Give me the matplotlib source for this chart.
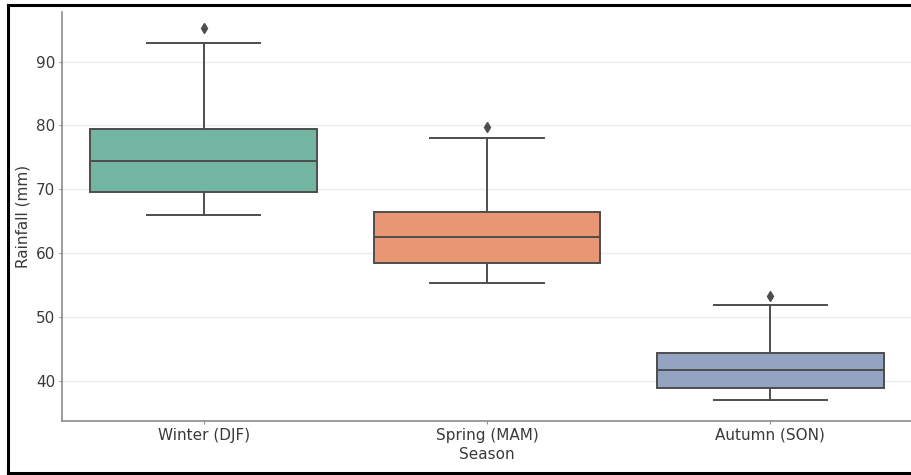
import matplotlib
matplotlib.use("Agg")
import matplotlib.pyplot as plt
import matplotlib.colors as mcolors
import colorsys
from matplotlib.lines import Line2D

# Seasonal rainfall summary (mm)
seasons = ["Winter (DJF)", "Spring (MAM)", "Autumn (SON)"]
whisker_low = [65.9, 55.3, 36.9]
q1 = [69.6, 58.4, 38.9]
median = [74.5, 62.5, 41.7]
q3 = [79.4, 66.5, 44.4]
whisker_high = [92.9, 78.0, 51.9]
outliers = [[95.2], [79.8], [53.2]]

base_colors = ["#66c2a5", "#fc8d62", "#8da0cb"]


def desaturate(color, prop=0.75):
    r, g, b = mcolors.to_rgb(color)
    h, l, s = colorsys.rgb_to_hls(r, g, b)
    return colorsys.hls_to_rgb(h, l, s * prop)


fig = plt.figure(figsize=(9.12, 4.75), dpi=100)
ax = fig.add_axes([0.068, 0.114, 0.932, 0.861])

stats = []
for i, name in enumerate(seasons):
    stats.append({
        "label": name,
        "whislo": whisker_low[i],
        "q1": q1[i],
        "med": median[i],
        "q3": q3[i],
        "whishi": whisker_high[i],
        "fliers": outliers[i],
    })

line_gray = "#4d4d4d"
bp = ax.bxp(
    stats,
    positions=range(len(seasons)),
    widths=0.8,
    patch_artist=True,
    boxprops=dict(edgecolor=line_gray, linewidth=1.4),
    medianprops=dict(color=line_gray, linewidth=1.4),
    whiskerprops=dict(color=line_gray, linewidth=1.4),
    capprops=dict(color=line_gray, linewidth=1.4),
    flierprops=dict(marker="d", markerfacecolor=line_gray,
                    markeredgecolor=line_gray, markersize=5),
    zorder=3,
)
for patch, c in zip(bp["boxes"], base_colors):
    patch.set_facecolor(desaturate(c))

# caps span half the box width
for cap in bp["caps"]:
    x = cap.get_xdata()
    mid = (x[0] + x[1]) / 2
    cap.set_xdata([mid - 0.2, mid + 0.2])

ax.set_xlim(-0.5, 2.5)
ax.set_ylim(33.7, 97.8)
ax.set_yticks([40, 50, 60, 70, 80, 90])
ax.yaxis.grid(True, color="#ebebeb", linewidth=1.0, zorder=0)
ax.set_axisbelow(True)

for side in ("top", "right"):
    ax.spines[side].set_visible(False)
for side in ("left", "bottom"):
    ax.spines[side].set_color("#8c8c8c")
    ax.spines[side].set_linewidth(1.2)

ax.tick_params(axis="both", colors="#8c8c8c", labelcolor="#3a3a3a",
               labelsize=11, length=2.5, width=0.8, pad=2.5)
ax.set_xlabel("Season", fontsize=11, color="#3a3a3a", labelpad=3)
ax.set_ylabel("Rainfall (mm)", fontsize=11, color="#3a3a3a", labelpad=4)

# Dark frame along the left, top and bottom edges of the figure
frame_kw = dict(transform=fig.transFigure, color="black", linewidth=2.2,
                solid_capstyle="projecting")
x0, y0, y1 = 8.5 / 912, 1 - 473 / 475, 1 - 4.5 / 475
fig.add_artist(Line2D([x0, x0], [y0, y1], **frame_kw))
fig.add_artist(Line2D([x0, 1.01], [y1, y1], **frame_kw))
fig.add_artist(Line2D([x0, 1.01], [y0, y0], **frame_kw))

fig.savefig("out.png", dpi=100)
